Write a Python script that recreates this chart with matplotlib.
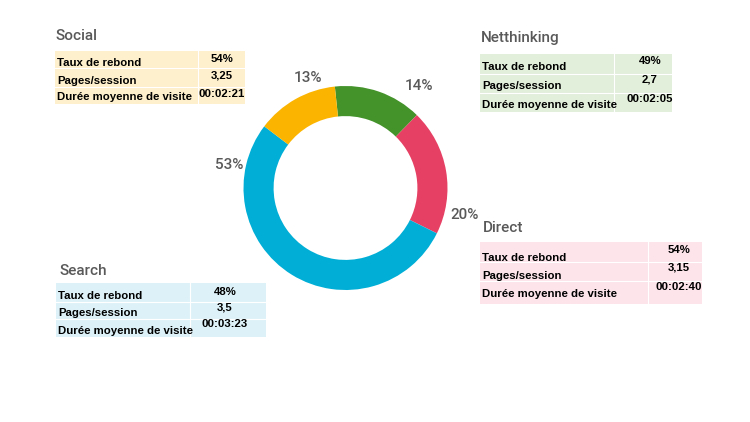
import matplotlib
matplotlib.use("Agg")
import matplotlib.pyplot as plt
from matplotlib.patches import Rectangle
import numpy as np

# ---- data ----
sources = ["Netthinking", "Direct", "Search", "Social"]
shares = [14, 20, 53, 13]
share_labels = ["14%", "20%", "53%", "13%"]
row_labels = ["Taux de rebond", "Pages/session", "Durée moyenne de visite"]
bounce = ["49%", "54%", "48%", "54%"]
pages = ["2,7", "3,15", "3,5", "3,25"]
duration = ["00:02:05", "00:02:40", "00:03:23", "00:02:21"]

# ---- style ----
colors = ["#43922A", "#E64164", "#00AED6", "#FBB400"]
table_bg = ["#E2EFDA", "#FCE4EA", "#DDF2F8", "#FEF0CC"]
title_color = "#595959"

# table layout (pixel coords, y from top)
layout = {
    "Netthinking": dict(l=480, r=672, t=54, b=112, d=614, rows=(74, 93), vx=650,
                        tx=481, ty=38, ly=(67, 86, 105), vy=(61, 79, 99)),
    "Direct": dict(l=480, r=702, t=242, b=304, d=648, rows=(262, 281), vx=679,
                   tx=483, ty=228, ly=(258, 276, 294), vy=(250, 268, 287)),
    "Search": dict(l=56, r=266, t=283, b=337, d=190, rows=(302, 319), vx=225,
                   tx=60, ty=271, ly=(296, 313, 331), vy=(292, 308, 324)),
    "Social": dict(l=55, r=245, t=51, b=104, d=198, rows=(68, 87), vx=222,
                   tx=56, ty=36, ly=(63, 81, 97), vy=(59, 76, 94)),
}
label_offsets = [8.8, 13.7, 26.2, 12.6]
label_dists = [1.23, 1.20, 1.16, 1.14]

W, H = 750, 422
fig = plt.figure(figsize=(W / 100, H / 100), dpi=100)
fig.patch.set_facecolor("white")

ax = fig.add_axes([0, 0, 1, 1])
ax.set_xlim(0, W)
ax.set_ylim(H, 0)
ax.axis("off")

title_font = dict(family="Roboto", fontsize=11, fontweight="medium", color=title_color)
tab_font = dict(family="Liberation Sans", fontsize=8.2, fontweight="bold", color="black")

for i, src in enumerate(sources):
    L = layout[src]
    ax.add_patch(Rectangle((L["l"], L["t"]), L["r"] - L["l"], L["b"] - L["t"],
                           facecolor=table_bg[i], edgecolor="none", zorder=1))
    for ry in L["rows"]:
        ax.plot([L["l"], L["r"]], [ry, ry], color="white", lw=0.8, zorder=2)
    ax.plot([L["d"], L["d"]], [L["t"], L["b"]], color="white", lw=0.8, zorder=2)
    ax.text(L["tx"], L["ty"], src, ha="left", va="center", **title_font)
    vals = [bounce[i], pages[i], duration[i]]
    for k in range(3):
        ax.text(L["l"] + 2, L["ly"][k], row_labels[k], ha="left", va="center", zorder=3, **tab_font)
        ax.text(L["vx"], L["vy"][k], vals[k], ha="center", va="center", zorder=3, **tab_font)

# ---- donut ----
cx, cy, R = 345.5, 188, 102
half = 125
pax = fig.add_axes([(cx - half) / W, (H - cy - half) / H, 2 * half / W, 2 * half / H])
wedges, _ = pax.pie(shares, colors=colors, startangle=96, counterclock=False,
                    radius=1, wedgeprops=dict(width=0.295, edgecolor="none"))
pax.set_xlim(-half / R, half / R)
pax.set_ylim(-half / R, half / R)
pax.set_aspect("equal")
pax.axis("off")

for w, lab, off, dist in zip(wedges, share_labels, label_offsets, label_dists):
    ang = np.deg2rad(w.theta1 + off)
    pax.text(dist * np.cos(ang), dist * np.sin(ang), lab, ha="center", va="center",
             family="Roboto", fontsize=11, fontweight="medium", color=title_color,
             clip_on=False)

fig.savefig("out.png", dpi=100, facecolor="white")
